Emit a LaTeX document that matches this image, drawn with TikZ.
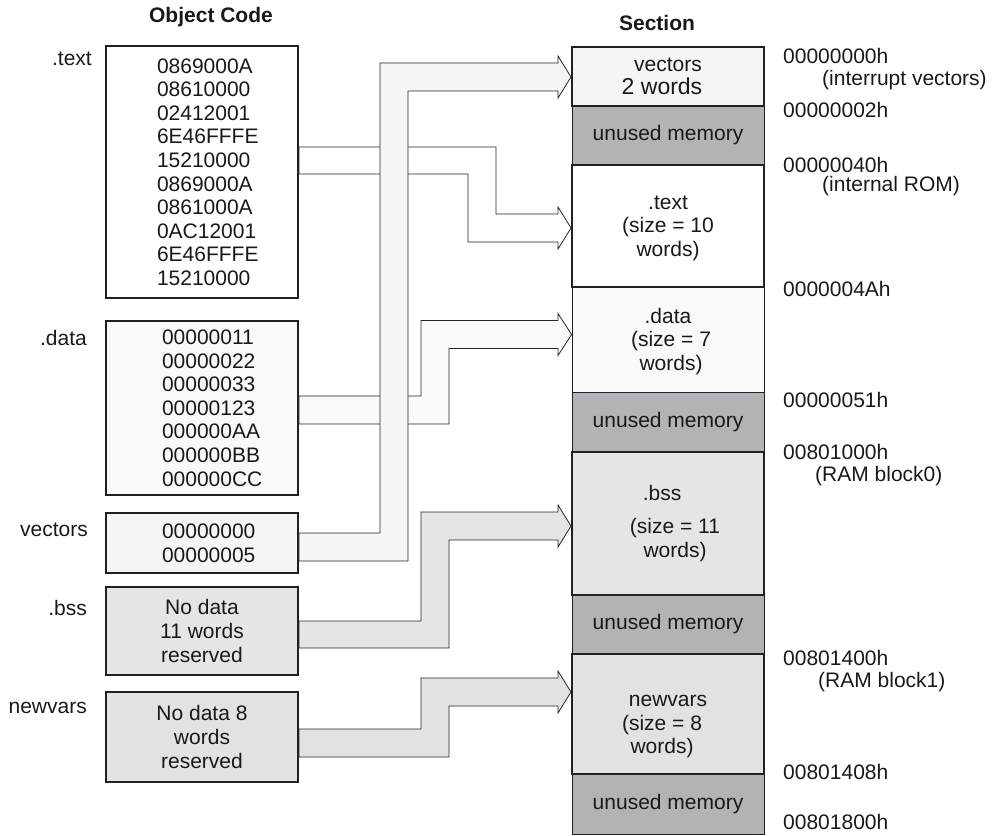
\documentclass[tikz,border=0pt]{standalone}
\usepackage{fontspec}
\setmainfont{Liberation Sans}
\definecolor{unusedgray}{RGB}{178,179,182}
\definecolor{bssgray}{RGB}{228,229,231}
\definecolor{newgray}{RGB}{225,226,227}
\definecolor{boxline}{RGB}{35,31,32}
\begin{document}
\begin{tikzpicture}[x=1pt,y=-1pt,
  every node/.style={font=\fontsize{21}{23.6}\selectfont,text=black!90},
  objbox/.style={draw=boxline,line width=2pt,minimum width=192pt,inner sep=0pt},
  secbox/.style={draw=boxline,line width=2pt,minimum width=192pt,inner sep=0pt,align=center},
  unused/.style={secbox,line width=0.8pt,fill=unusedgray},
  addr/.style={anchor=west,inner sep=0pt},
  seglabel/.style={anchor=east,inner sep=0pt},
  fat/.style={draw=black!85,line width=0.8pt}]
\useasboundingbox (0,0) rectangle (995,835);
\node[font=\fontsize{21}{24}\selectfont\bfseries] (objhead) at (211,17) {Object Code};
\node[font=\fontsize{21}{24}\selectfont\bfseries] (sechead) at (657,23) {Section};
\node[objbox,fill=white,minimum height=252pt,text width=90pt,align=left] (otext) at (202,172)
  {0869000A\\08610000\\02412001\\6E46FFFE\\15210000\\0869000A\\0861000A\\0AC12001\\6E46FFFE\\15210000};
\node[objbox,fill=gray!5,minimum height=174pt,text width=80pt,align=left] (odata) at (202,408)
  {00000011\\00000022\\00000033\\00000123\\000000AA\\000000BB\\000000CC};
\node[objbox,fill=gray!8,minimum height=60pt,text width=80pt,align=left] (ovec) at (202,543)
  {00000000\\00000005};
\node[objbox,fill=bssgray,minimum height=88pt,align=center] (obss) at (202,631) {No data\\11 words\\reserved};
\node[objbox,fill=newgray,minimum height=90pt,align=center] (onew) at (202,737) {No data 8\\words\\reserved};
\node[seglabel] (ltext) at (92,59) {.text};
\node[seglabel] (ldata) at (87,338) {.data};
\node[seglabel] (lvec) at (88,530) {vectors};
\node[seglabel] (lbss) at (87,608) {.bss};
\node[seglabel] (lnew) at (87,708) {newvars};
\node[unused,minimum height=59pt] (sun1) at (668,135.5) {unused memory};
\node[unused,minimum height=60pt] (sun2) at (668,422) {unused memory};
\node[unused,minimum height=59pt] (sun3) at (668,624.5) {unused memory};
\node[unused,minimum height=60pt] (sun4) at (668,804) {unused memory};
\node[secbox,line width=0.8pt,fill=gray!5,minimum height=105pt] (sdata) at (668,339.5)
  {\rule{0pt}{19pt}.data\\\hspace*{6pt}(size = 7\\\hspace*{6pt}words)};
\node[secbox,fill=gray!8,minimum height=59pt] (svec) at (668,76.5)
  {vectors\\{\fontsize{23}{24}\selectfont\hspace*{-12pt}2 words}};
\node[secbox,fill=white,minimum height=122pt] (stext) at (668,226)
  {\rule{0pt}{18pt}.text\\(size = 10\\words)};
\node[secbox,fill=bssgray,minimum height=143pt] (sbss) at (668,523.5)
  {\hspace*{-12pt}.bss\\[10pt]\hspace*{14pt}(size = 11\\\hspace*{14pt}words)};
\node[secbox,fill=newgray,minimum height=120pt] (snew) at (668,714)
  {\rule{0pt}{37pt}newvars\\\hspace*{-12pt}(size = 8\\\hspace*{-12pt}words)};
\node[addr] (a0) at (783,56) {00000000h};
\node[addr] (a0note) at (822,80) {(interrupt vectors)};
\node[addr] (a2) at (783,110) {00000002h};
\node[addr] (a40) at (783,165) {00000040h};
\node[addr] (a40note) at (822,186) {(internal ROM)};
\node[addr] (a4a) at (783,289) {0000004Ah};
\node[addr] (a51) at (783,400) {00000051h};
\node[addr] (a1000) at (783,452) {00801000h};
\node[addr] (a1000note) at (815,476) {(RAM block0)};
\node[addr] (a1400) at (783,658) {00801400h};
\node[addr] (a1400note) at (818,682) {(RAM block1)};
\node[addr] (a1408) at (783,772) {00801408h};
\node[addr] (a1800) at (783,822) {00801800h};
\filldraw[fat,fill=white] (otext.east |- 0,147) -- (496,147) -- (496,214) -- (558,214) -- (558,207)
  -- (stext.west |- 0,228) -- (558,249) -- (558,242) -- (468,242) -- (468,174) -- (otext.east |- 0,174) -- cycle;
\filldraw[fat,fill=gray!5] (odata.east |- 0,396) -- (421,396) -- (421,320.5) -- (558,320.5) -- (558,313.5)
  -- (sdata.west |- 0,334.5) -- (558,355.5) -- (558,348.5) -- (449,348.5) -- (449,424) -- (odata.east |- 0,424) -- cycle;
\filldraw[fat,fill=bssgray] (obss.east |- 0,621) -- (421,621) -- (421,512) -- (558,512) -- (558,505)
  -- (sbss.west |- 0,526) -- (558,547) -- (558,540) -- (449,540) -- (449,648) -- (obss.east |- 0,648) -- cycle;
\filldraw[fat,fill=newgray] (onew.east |- 0,729) -- (421,729) -- (421,678) -- (558,678) -- (558,671)
  -- (snew.west |- 0,692) -- (558,713) -- (558,706) -- (449,706) -- (449,757) -- (onew.east |- 0,757) -- cycle;
\filldraw[fat,fill=gray!8] (ovec.east |- 0,533) -- (380,533) -- (380,63) -- (558,63) -- (558,56)
  -- (svec.west |- 0,77) -- (558,98) -- (558,91) -- (408,91) -- (408,561) -- (ovec.east |- 0,561) -- cycle;
\end{tikzpicture}
\end{document}
